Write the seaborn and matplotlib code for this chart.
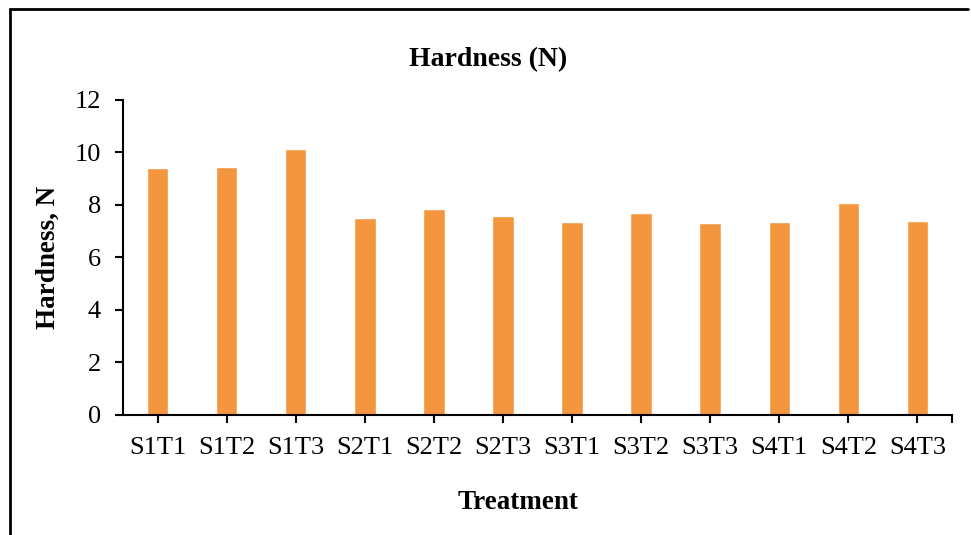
import matplotlib
matplotlib.use("Agg")
import matplotlib.pyplot as plt
import seaborn as sns
import pandas as pd
from matplotlib.lines import Line2D

# data
treatments = ["S1T1", "S1T2", "S1T3", "S2T1", "S2T2", "S2T3",
              "S3T1", "S3T2", "S3T3", "S4T1", "S4T2", "S4T3"]
hardness = [9.40, 9.46, 10.15, 7.50, 7.85, 7.58,
            7.36, 7.68, 7.32, 7.36, 8.08, 7.38]

df = pd.DataFrame({"Treatment": treatments, "Hardness": hardness})

sns.set_style("white")
plt.rcParams['font.family'] = ['Liberation Serif', 'DejaVu Serif']
plt.rcParams['text.color'] = 'black'
plt.rcParams['axes.labelcolor'] = 'black'
plt.rcParams['xtick.color'] = 'black'
plt.rcParams['ytick.color'] = 'black'

fig = plt.figure(figsize=(9.71, 5.35), dpi=100)
ax = fig.add_axes([0.1267, 0.2243, 0.8537, 0.5888])

sns.barplot(data=df, x="Treatment", y="Hardness", color="#F4963E",
            width=0.31, saturation=1, ax=ax)

ax.set_ylim(0, 12)
ax.set_xlim(-0.5, 11.5)
ax.set_yticks(range(0, 13, 2))
ax.set_xticks([11.5], minor=True)
ax.tick_params(axis="both", which="both", direction="out", length=6,
               width=1.5, colors="black", labelsize=19, left=True, bottom=True)
ax.tick_params(axis="x", pad=10)
ax.tick_params(axis="y", pad=10)
for s in ["top", "right"]:
    ax.spines[s].set_visible(False)
for s in ["left", "bottom"]:
    ax.spines[s].set_color("black")
    ax.spines[s].set_linewidth(1.5)

ax.set_xlabel("Treatment", fontsize=19.5, fontweight="bold", labelpad=22,
              x=0.476)
ax.set_ylabel("Hardness, N", fontsize=19.5, fontweight="bold", labelpad=10)
fig.text(0.5026, 0.889, "Hardness (N)", ha="center", va="center",
         fontsize=20, fontweight="bold")

# outer frame (left and top edges visible in the crop)
fig.add_artist(Line2D([9.5 / 971, 9.5 / 971], [0, 1 - 9 / 535],
                      transform=fig.transFigure, color="black", lw=2))
fig.add_artist(Line2D([9.5 / 971, 968 / 971], [1 - 9 / 535, 1 - 9 / 535],
                      transform=fig.transFigure, color="black", lw=2))

fig.savefig("out.png", dpi=100)
plt.close(fig)
